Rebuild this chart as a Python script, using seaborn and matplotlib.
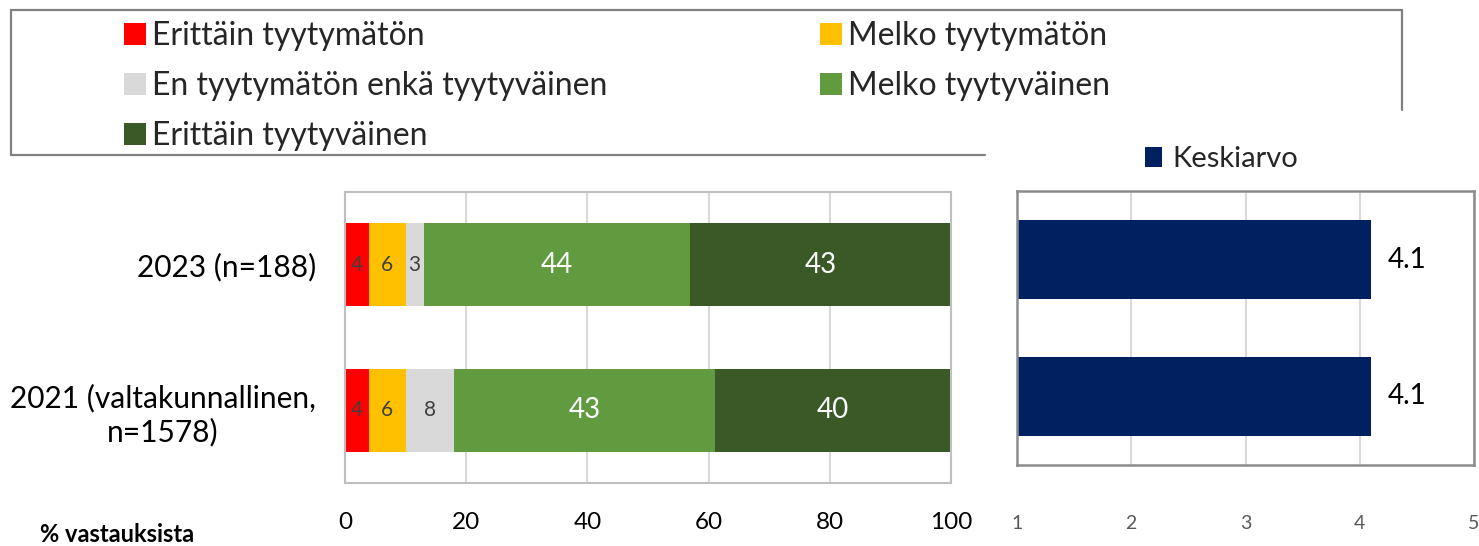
import matplotlib
matplotlib.use("Agg")
import matplotlib.pyplot as plt
import seaborn as sns
import pandas as pd
import numpy as np
from matplotlib.lines import Line2D

# ---- data ----
groups = ["2023 (n=188)", "2021 (valtakunnallinen,\nn=1578)"]
categories = [
    "Erittäin tyytymätön",
    "Melko tyytymätön",
    "En tyytymätön enkä tyytyväinen",
    "Melko tyytyväinen",
    "Erittäin tyytyväinen",
]
shares_2023 = [4, 6, 3, 44, 43]
shares_2021 = [4, 6, 8, 43, 40]
mean_label = "Keskiarvo"
means = [4.1, 4.1]
pct_ticks = [0, 20, 40, 60, 80, 100]
mean_ticks = [1, 2, 3, 4, 5]
axis_note = "% vastauksista"

# ---- styling ----
colors = ["#FF0000", "#FFC000", "#D9D9D9", "#629B3F", "#3A5926"]
value_colors = ["#404040", "#404040", "#404040", "white", "white"]
navy = "#002060"

sns.set_theme(style="white")
plt.rcParams["font.family"] = ["Lato", "DejaVu Sans"]

W, H = 1479, 546
fig = plt.figure(figsize=(W / 100, H / 100), dpi=100)


def fx(px):
    return px / W


def fy(py):
    return 1 - py / H


ax1 = fig.add_axes([fx(345), fy(483), (951 - 345) / W, (483 - 192) / H])
ax2 = fig.add_axes([fx(1017), fy(465), (1474 - 1017) / W, (465 - 191) / H])

df = pd.DataFrame({
    "group": np.repeat(groups, len(categories)),
    "category": categories * len(groups),
    "share": shares_2023 + shares_2021,
})
df["end"] = df.groupby("group", sort=False)["share"].cumsum()
df["start"] = df["end"] - df["share"]

# stacked bars: draw cumulative totals from the widest down
for cat, col in reversed(list(zip(categories, colors))):
    sub = df[df["category"] == cat]
    sns.barplot(data=sub, x="end", y="group", order=groups, color=col,
                saturation=1, width=0.57, linewidth=0, edgecolor="none",
                label=cat, ax=ax1)

for gi, g in enumerate(groups):
    sub = df[df["group"] == g]
    for (_, r), vc in zip(sub.iterrows(), value_colors):
        mid = (r["start"] + min(r["end"], 100)) / 2
        big = r["share"] >= 20
        ax1.text(mid, gi, f"{r['share']:g}", ha="center", va="center",
                 color=vc, fontsize=20 if big else 15)

ax1.set_xlim(0, 100)
ax1.set_xticks(pct_ticks)
ax1.set_xlabel("")
ax1.set_ylabel("")
ax1.grid(axis="x", color="#D9D9D9", linewidth=1.5)
ax1.grid(axis="y", visible=False)
ax1.set_axisbelow(True)
for s in ax1.spines.values():
    s.set_visible(True)
    s.set_color("#BFBFBF")
    s.set_linewidth(1.5)
ax1.tick_params(axis="x", length=0, pad=21, labelsize=17.5, labelcolor="black")
ax1.tick_params(axis="y", length=0, pad=21, labelsize=21.5, labelcolor="black")
for t in ax1.get_yticklabels():
    t.set_multialignment("center")
if ax1.get_legend() is not None:
    ax1.get_legend().remove()

# mean score panel
mdf = pd.DataFrame({"group": groups, "mean": means})
sns.barplot(data=mdf, x="mean", y="group", order=groups, color=navy,
            saturation=1, width=0.58, linewidth=0, edgecolor="none",
            label=mean_label, ax=ax2)
ax2.set_xlim(1, 5)
ax2.set_xticks(mean_ticks)
ax2.set_xlabel("")
ax2.set_ylabel("")
ax2.grid(axis="x", color="#D9D9D9", linewidth=1.5)
ax2.grid(axis="y", visible=False)
ax2.set_axisbelow(True)
for s in ax2.spines.values():
    s.set_visible(True)
    s.set_color("#8C8C8C")
    s.set_linewidth(1.8)
ax2.tick_params(axis="x", length=0, pad=36, labelsize=14, labelcolor="#595959")
ax2.tick_params(axis="y", length=0, labelleft=False)
ax2.bar_label(ax2.containers[0], fmt="%.1f", padding=12, fontsize=20, color="black")
if ax2.get_legend() is not None:
    ax2.get_legend().remove()

# legends
h1, l1 = ax1.get_legend_handles_labels()
hmap = dict(zip(l1, h1))
col_a = [categories[0], categories[2], categories[4]]
col_b = [categories[1], categories[3]]
common = dict(frameon=False, fontsize=23, handlelength=0.68, handleheight=0.68,
              handletextpad=0.2, labelspacing=0.62, borderpad=0, borderaxespad=0,
              loc="center left")
fig.legend([hmap[c] for c in col_a], col_a, bbox_to_anchor=(fx(124), fy(86)), **common)
fig.legend([hmap[c] for c in col_b], col_b, bbox_to_anchor=(fx(820), fy(61)), **common)

h2, l2 = ax2.get_legend_handles_labels()
fig.legend(h2, l2, frameon=False, fontsize=21, handlelength=0.58, handleheight=0.7,
           handletextpad=0.35, borderpad=0, borderaxespad=0, loc="center left",
           bbox_to_anchor=(fx(1145), fy(159)))

# legend frame
frame_kw = dict(color="#808080", linewidth=1.6, transform=fig.transFigure)
fig.add_artist(Line2D([fx(11), fx(1402)], [fy(10), fy(10)], **frame_kw))
fig.add_artist(Line2D([fx(11), fx(11)], [fy(10), fy(155)], **frame_kw))
fig.add_artist(Line2D([fx(11), fx(985)], [fy(155), fy(155)], **frame_kw))
fig.add_artist(Line2D([fx(1402), fx(1402)], [fy(10), fy(110)], **frame_kw))

fig.text(fx(40), fy(535), axis_note, fontsize=17, fontweight="bold",
         ha="left", va="center", color="black")

fig.savefig("out.png", dpi=100)
